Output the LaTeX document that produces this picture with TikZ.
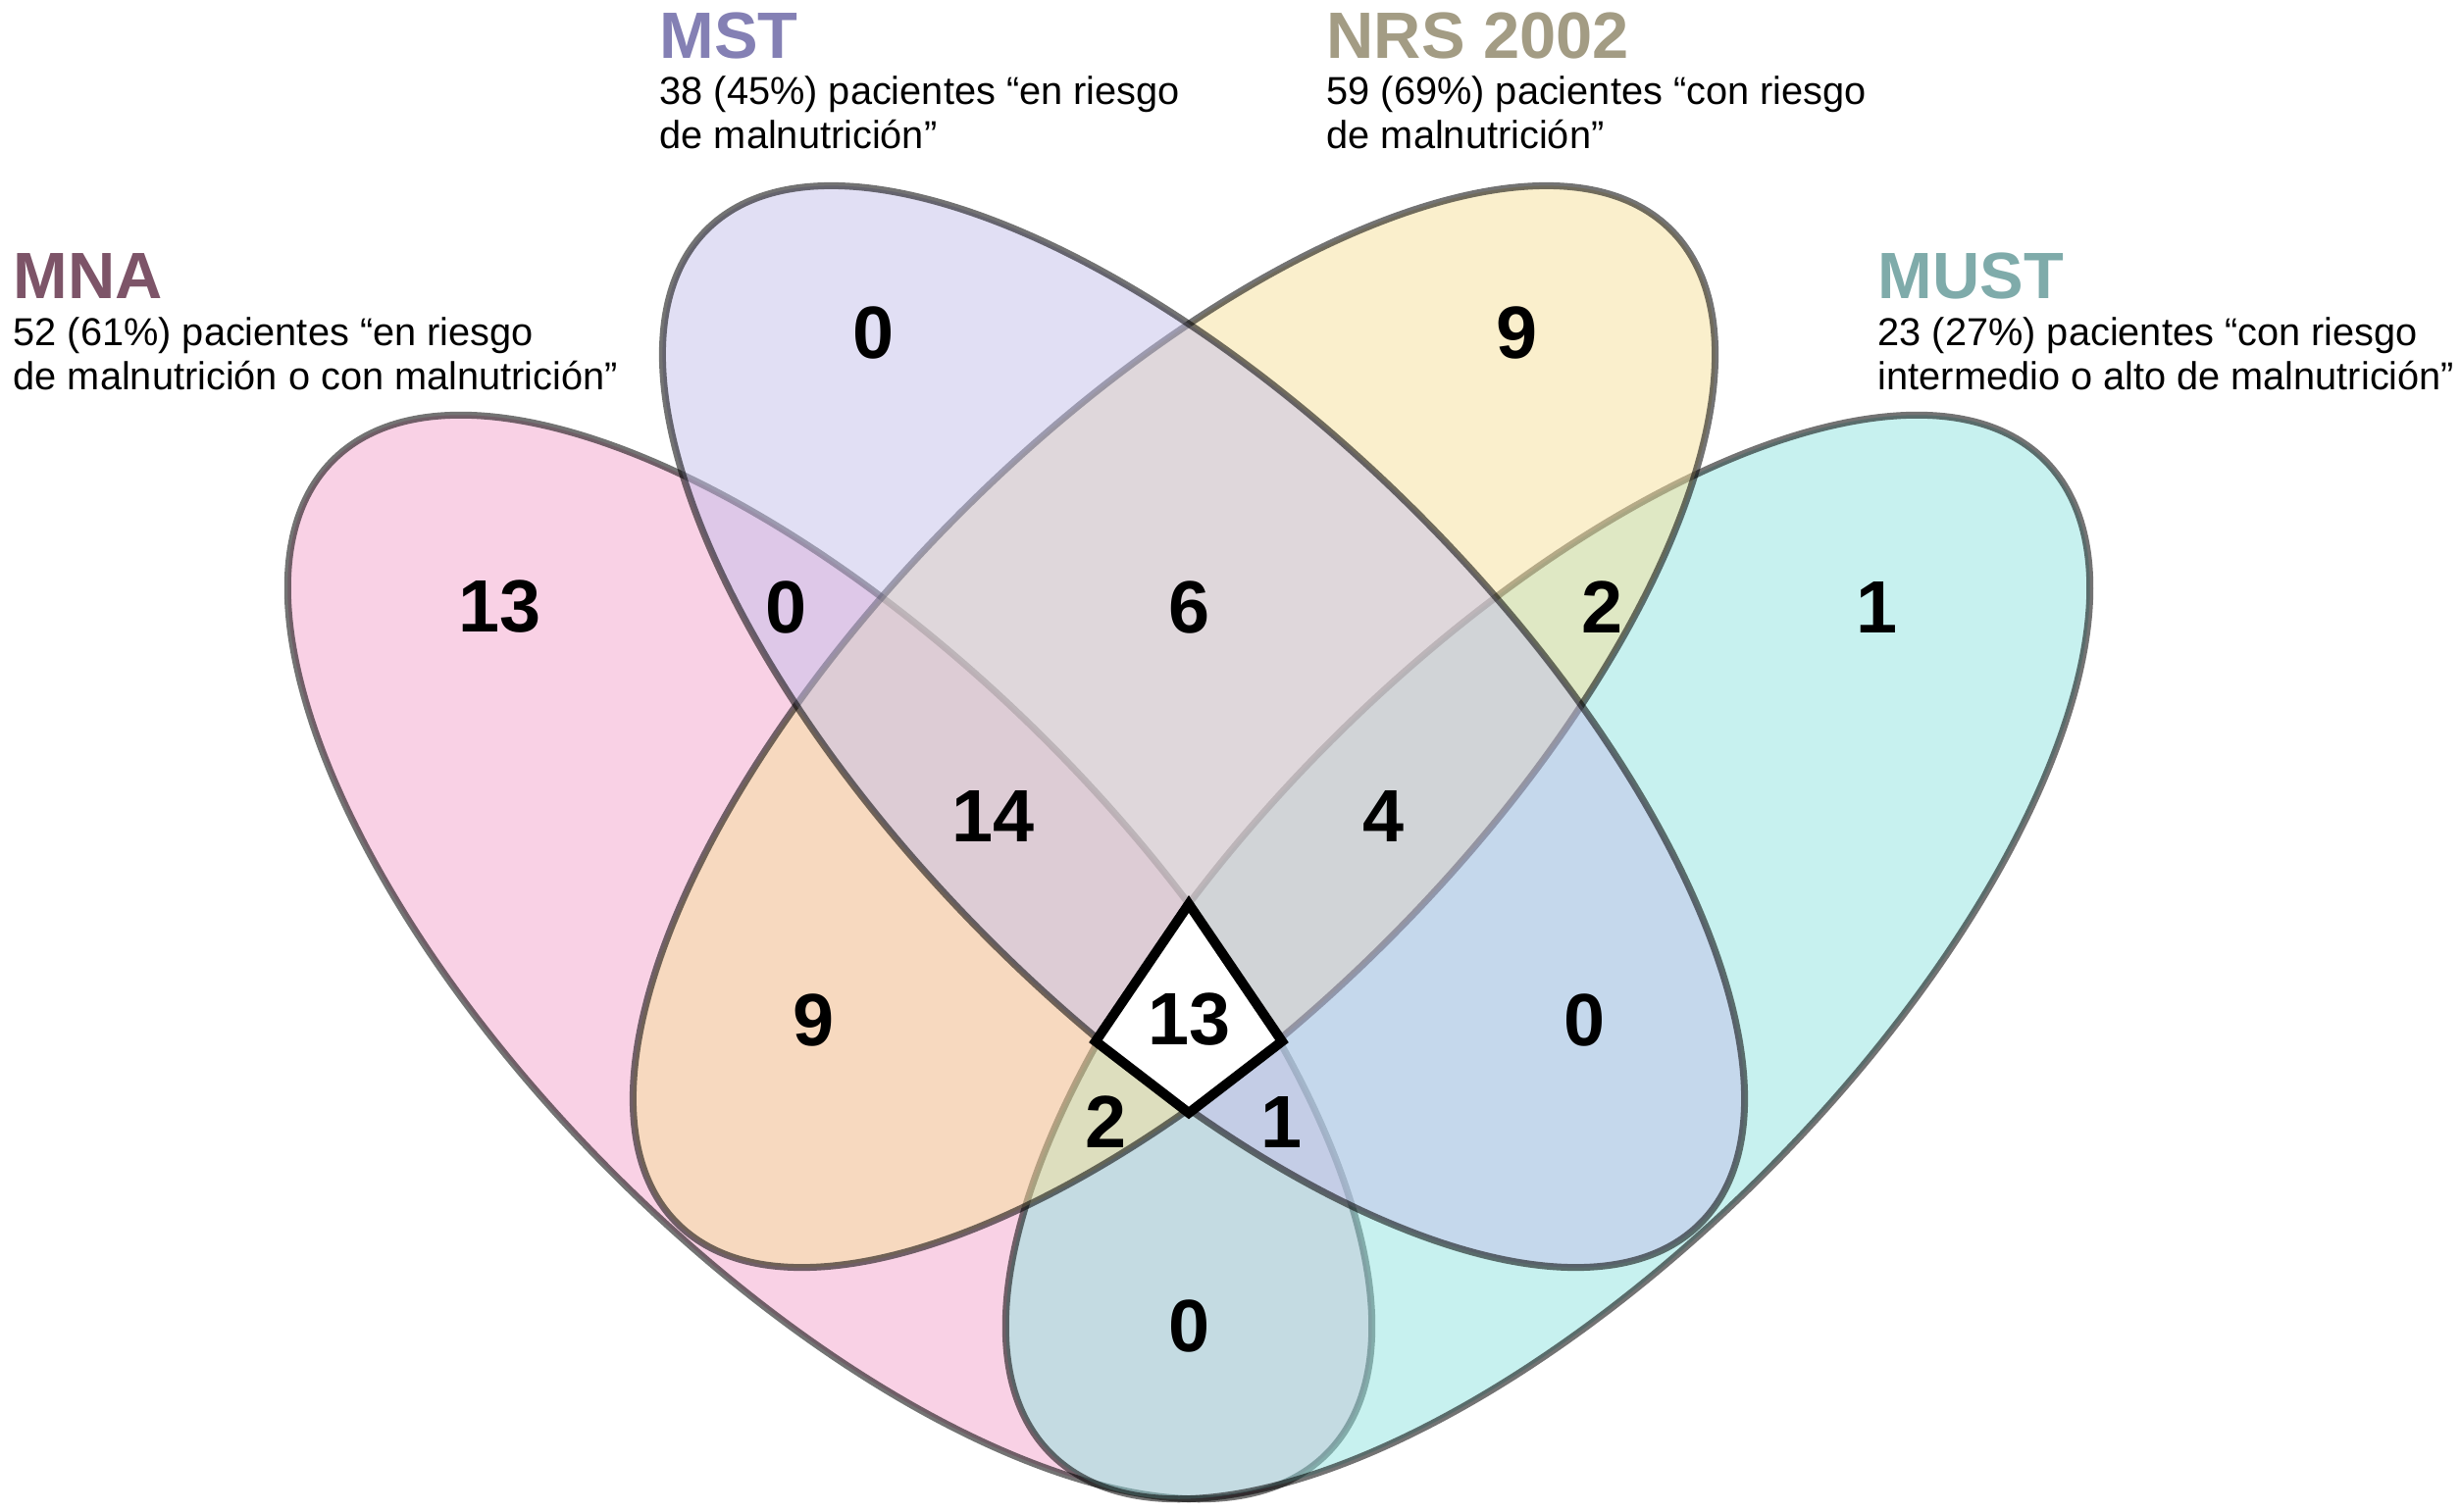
\documentclass[tikz,border=0pt]{standalone}
\usepackage{fontspec}
\setmainfont{Liberation Sans}
\definecolor{mnaF}{RGB}{245,165,205}
\definecolor{mustF}{RGB}{145,229,225}
\definecolor{nrsF}{RGB}{247,225,155}
\definecolor{mstF}{RGB}{197,193,235}
\definecolor{mnaT}{RGB}{125,84,104}
\definecolor{mstT}{RGB}{132,128,180}
\definecolor{nrsT}{RGB}{163,156,132}
\definecolor{mustT}{RGB}{127,171,170}
\begin{document}
\begin{tikzpicture}[x=0.01cm,y=-0.01cm,
  venn/.style={fill opacity=0.5, draw=black, draw opacity=0.55, line width=0.07cm},
  num/.style={font=\fontsize{21.5}{24}\selectfont\bfseries, inner sep=0pt},
  ttl/.style={font=\fontsize{19}{22}\selectfont\bfseries, anchor=base west, inner sep=0pt},
  desc/.style={font=\fontsize{11.3}{13}\selectfont, anchor=base west, inner sep=0pt}]
\useasboundingbox (0,0) rectangle (2508,1541);
\fill[white] (0,0) rectangle (2508,1541);
% ellipses
\path[venn, fill=mnaF, rotate around={-45:(846,976)}] (846,976) ellipse [x radius=7.16cm, y radius=3.12cm];
\path[venn, fill=mustF, rotate around={45:(1578,976)}] (1578,976) ellipse [x radius=7.16cm, y radius=3.12cm];
\path[venn, fill=nrsF, rotate around={45:(1197,741)}] (1197,741) ellipse [x radius=7.16cm, y radius=3.08cm];
\path[venn, fill=mstF, rotate around={-45:(1227,741)}] (1227,741) ellipse [x radius=7.16cm, y radius=3.08cm];
% central region
\coordinate (dT) at (1212,922);
\coordinate (dR) at (1307,1062);
\coordinate (dB) at (1212,1135);
\coordinate (dL) at (1117,1062);
\draw[line width=0.1cm, fill=white, line join=miter] (dT) -- (dR) -- (dB) -- (dL) -- cycle;
% numbers
\node[num] (n1) at (510,619) {13};
\node[num] (n2) at (802,619) {0};
\node[num] (n3) at (891,339) {0};
\node[num] (n4) at (1213,619) {6};
\node[num] (n5) at (1547,339) {9};
\node[num] (n6) at (1634,619) {2};
\node[num] (n7) at (1914,619) {1};
\node[num] (n8) at (1013,832) {14};
\node[num] (n9) at (1411,832) {4};
\node[num] (n10) at (830,1040) {9};
\node[num] (n11) at (1213,1040) {13};
\node[num] (n12) at (1616,1040) {0};
\node[num] (n13) at (1128,1144) {2};
\node[num] (n14) at (1307,1144) {1};
\node[num] (n15) at (1213,1352) {0};
% titles
\node[ttl, text=mnaT] (tMNA) at (13,304) {MNA};
\node[desc] (dMNA1) at (13,352) {52 (61\%) pacientes “en riesgo};
\node[desc] (dMNA2) at (13,397) {de malnutrición o con malnutrición”};
\node[ttl, text=mstT] (tMST) at (672,59) {MST};
\node[desc] (dMST1) at (672,106) {38 (45\%) pacientes “en riesgo};
\node[desc] (dMST2) at (672,151) {de malnutrición”};
\node[ttl, text=nrsT] (tNRS) at (1352,59) {NRS 2002};
\node[desc] (dNRS1) at (1352,106) {59 (69\%) pacientes “con riesgo};
\node[desc] (dNRS2) at (1352,151) {de malnutrición”};
\node[ttl, text=mustT] (tMUST) at (1914,304) {MUST};
\node[desc] (dMUST1) at (1914,352) {23 (27\%) pacientes “con riesgo};
\node[desc] (dMUST2) at (1914,397) {intermedio o alto de malnutrición”};
\end{tikzpicture}
\end{document}
